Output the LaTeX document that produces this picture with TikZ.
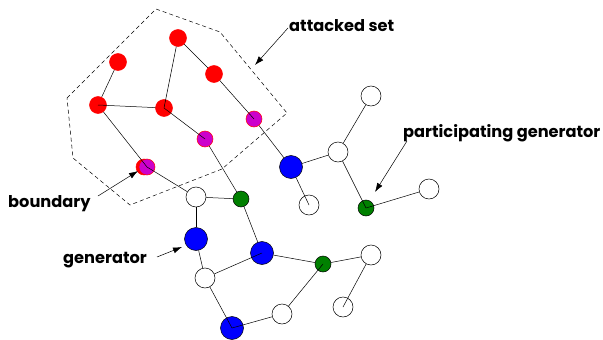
\documentclass[tikz,border=0pt]{standalone}
\usepackage{fontspec}
\setmainfont{Poppins}
\usetikzlibrary{arrows.meta}
\definecolor{mag}{RGB}{204,0,204}
\definecolor{grn}{RGB}{0,128,0}
\begin{document}
\begin{tikzpicture}[x=1pt,y=-1pt,
  base/.style={circle,inner sep=0pt,line width=0.5pt},
  rednode/.style={base,fill=red,draw=red,minimum size=17pt},
  magnode/.style={base,fill=mag,draw=red,minimum size=16pt},
  bluenode/.style={base,fill=blue,draw=black,minimum size=23pt},
  whitenode/.style={base,fill=white,draw=black,minimum size=20pt},
  greennode/.style={base,fill=grn,draw=black,minimum size=16pt},
  edge/.style={draw=black,line width=0.5pt},
  lab/.style={font=\bfseries\fontsize{16.2}{18}\selectfont,anchor=base west,inner sep=0pt},
  pointer/.style={-{Latex[length=9pt,width=6pt]},line width=0.5pt}]
\useasboundingbox (0,0) rectangle (603,340);
% dashed region
\draw[dashed,line width=0.5pt,dash pattern=on 4pt off 3pt]
  (67,98) -- (156,9) -- (220,32) -- (287,113) -- (222,169) -- (130,205) -- (73,158) -- cycle;
% nodes
\node[rednode] (A) at (118,62) {};
\node[rednode] (B) at (178,38) {};
\node[rednode] (C) at (214,74) {};
\node[rednode] (D) at (98,105) {};
\node[rednode] (E) at (164,108) {};
\node[magnode] (F) at (254,119) {};
\node[magnode] (G) at (205,139) {};
\node[rednode,minimum size=16pt] (Hr) at (144,167) {};
\node[magnode] (H) at (147,167) {};
\node[whitenode] (I) at (196,197) {};
\node[greennode] (J) at (241,199) {};
\node[bluenode] (K) at (291,167) {};
\node[whitenode] (L) at (338,152) {};
\node[whitenode] (W) at (371,96) {};
\node[whitenode] (M) at (309,205) {};
\node[greennode] (N) at (366,208) {};
\node[whitenode] (X) at (429,189) {};
\node[bluenode] (O) at (196,239) {};
\node[bluenode] (P) at (262,253) {};
\node[greennode] (Q) at (323,264) {};
\node[whitenode] (R) at (371,255) {};
\node[whitenode] (S) at (205,278) {};
\node[whitenode] (T) at (343,307) {};
\node[whitenode] (U) at (282,314) {};
\node[bluenode] (V) at (232,328) {};
% edges
\path[edge] (A) -- (D);
\path[edge] (D.center) -- (E);
\path[edge] (D) -- (H.center);
\path[edge] (B) -- (E.center);
\path[edge] (B) -- (C);
\path[edge] (C) -- (F.center);
\path[edge] (E.center) -- (G.center);
\path[edge] (H.center) -- (I);
\path[edge] (G) -- (J);
\path[edge] (F) -- (K);
\path[edge] (I) -- (J);
\path[edge] (K) -- (L);
\path[edge] (L) -- (W);
\path[edge] (K) -- (M.center);
\path[edge] (L) -- (N.center);
\path[edge] (N.center) -- (X);
\path[edge] (I) -- (O);
\path[edge] (O) -- (S);
\path[edge] (S) -- (P.center);
\path[edge] (J) -- (P);
\path[edge] (P) -- (Q);
\path[edge] (Q) -- (R);
\path[edge] (R) -- (T.center);
\path[edge] (Q.center) -- (U);
\path[edge] (U) -- (V.center);
\path[edge] (S) -- (V.center);
% labels
\node[lab] (l1) at (289,31) {attacked set};
\node[lab] (l2) at (403,137) {participating generator};
\node[lab] (l3) at (8,207) {boundary};
\node[lab] (l4) at (63,263) {generator};
\coordinate (a1s) at (288,28); \coordinate (a1e) at (255,65);
\coordinate (a2s) at (407,141); \coordinate (a2e) at (375,192);
\coordinate (a3s) at (98,196); \coordinate (a3e) at (138,171);
\coordinate (a4s) at (157,257); \coordinate (a4e) at (182,247);
\draw[pointer] (a1s) -- (a1e);
\draw[pointer] (a2s) -- (a2e);
\draw[pointer] (a3s) -- (a3e);
\draw[pointer] (a4s) -- (a4e);
\end{tikzpicture}
\end{document}
